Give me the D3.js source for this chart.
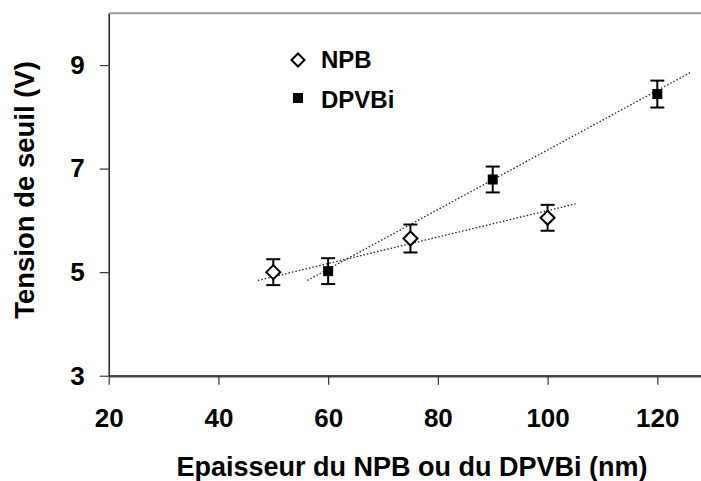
<!DOCTYPE html>
<html><head><meta charset="utf-8">
<script src="https://cdn.jsdelivr.net/npm/d3@7"></script>
<style>body{margin:0;background:#fff}svg{display:block;font-family:"Liberation Sans",Arial,sans-serif;font-weight:bold}</style>
</head><body><svg id="c" width="701" height="481"></svg>
<script>
const xTicks = [20, 40, 60, 80, 100, 120];
const yTicks = [3, 5, 7, 9];
const npbX = [50, 75, 100];
const npbY = [5.0, 5.65, 6.05];
const npbErr = [0.25, 0.27, 0.25];
const dpvX = [60, 90, 120];
const dpvY = [5.02, 6.79, 8.44];
const dpvErr = [0.25, 0.25, 0.26];
const npbTrend = [[47.2, 4.84], [105.1, 6.32]];
const dpvTrend = [[56.2, 4.84], [126.0, 8.855]];
const legendLabels = ["NPB", "DPVBi"];

const svg = d3.select("#c");
const x = d3.scaleLinear().domain([20, 128]).range([108.7, 701.2]);
const y = d3.scaleLinear().domain([3, 10]).range([375.7, 13.3]);

// top frame line
svg.append("line").attr("x1", x(20)).attr("x2", 701).attr("y1", y(10)).attr("y2", y(10))
  .attr("stroke", "#9a9a9a").attr("stroke-width", 2);

const xAxis = svg.append("g").attr("transform", `translate(0,${y(3)})`)
  .call(d3.axisBottom(x).tickValues(xTicks).tickFormat(d3.format("d")).tickSize(9).tickPadding(24).tickSizeOuter(0));
xAxis.select(".domain").attr("stroke", "#444").attr("stroke-width", 2.5);
xAxis.selectAll(".tick line").attr("stroke", "#333").attr("stroke-width", 1.2);
xAxis.selectAll("text").attr("font-size", 26).attr("font-weight", "bold").attr("fill", "#000")
  .attr("font-family", "Liberation Sans, Arial, sans-serif");

const yAxis = svg.append("g").attr("transform", `translate(${x(20)},0)`)
  .call(d3.axisLeft(y).tickValues(yTicks).tickFormat(d3.format("d")).tickSize(9).tickPadding(15).tickSizeOuter(0));
yAxis.select(".domain").attr("stroke", "#222").attr("stroke-width", 1.5);
yAxis.selectAll(".tick line").attr("stroke", "#333").attr("stroke-width", 1.2);
yAxis.selectAll("text").attr("font-size", 26).attr("font-weight", "bold").attr("fill", "#000")
  .attr("font-family", "Liberation Sans, Arial, sans-serif");

// titles
svg.append("text").attr("x", 412).attr("y", 476).attr("text-anchor", "middle")
  .attr("font-size", 27).text("Epaisseur du NPB ou du DPVBi (nm)");
svg.append("text").attr("transform", `translate(34,${(58 + 322) / 2}) rotate(-90)`)
  .attr("text-anchor", "middle").attr("font-size", 27.5).text("Tension de seuil (V)");

// trend lines
const line = d3.line().x(d => x(d[0])).y(d => y(d[1]));
[npbTrend, dpvTrend].forEach(t => {
  svg.append("path").attr("d", line(t)).attr("fill", "none").attr("stroke", "#222")
    .attr("stroke-width", 1.3).attr("stroke-dasharray", "1.5,2");
});

// error bars
function errBars(xs, ys, es) {
  xs.forEach((v, i) => {
    const g = svg.append("g").attr("stroke", "#000").attr("stroke-width", 2);
    g.append("line").attr("x1", x(v)).attr("x2", x(v)).attr("y1", y(ys[i] + es[i])).attr("y2", y(ys[i] - es[i]));
    [es[i], -es[i]].forEach(e => g.append("line").attr("x1", x(v) - 7).attr("x2", x(v) + 7)
      .attr("y1", y(ys[i] + e)).attr("y2", y(ys[i] + e)));
  });
}
errBars(npbX, npbY, npbErr);
errBars(dpvX, dpvY, dpvErr);

const diamond = (cx, cy, r) => `M${cx},${cy - r}L${cx + r},${cy}L${cx},${cy + r}L${cx - r},${cy}Z`;
npbX.forEach((v, i) => svg.append("path").attr("d", diamond(x(v), y(npbY[i]), 7))
  .attr("fill", "#fff").attr("stroke", "#000").attr("stroke-width", 2));
dpvX.forEach((v, i) => svg.append("rect").attr("x", x(v) - 5).attr("y", y(dpvY[i]) - 5)
  .attr("width", 10).attr("height", 10).attr("fill", "#000"));

// legend
svg.append("path").attr("d", diamond(298, 60, 6.5)).attr("fill", "#fff").attr("stroke", "#000").attr("stroke-width", 2);
svg.append("rect").attr("x", 293).attr("y", 93).attr("width", 10).attr("height", 10).attr("fill", "#000");
legendLabels.forEach((l, i) => svg.append("text").attr("x", 321).attr("y", 68 + i * 40)
  .attr("font-size", 24).text(l));
</script></body></html>
